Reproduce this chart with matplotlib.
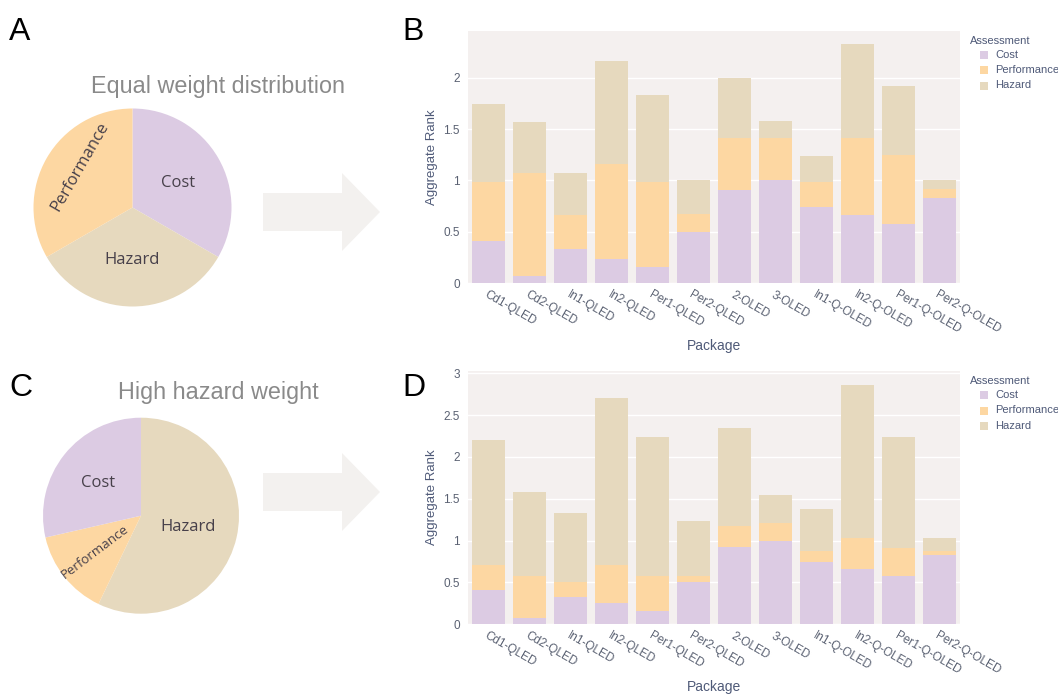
import matplotlib
matplotlib.use("Agg")
import matplotlib.pyplot as plt
import numpy as np
from matplotlib.patches import Polygon, Rectangle

W, H = 1058, 696
plt.rcParams['font.family'] = ['Liberation Sans', 'DejaVu Sans']

packages = ["Cd1-QLED", "Cd2-QLED", "In1-QLED", "In2-QLED", "Per1-QLED", "Per2-QLED",
            "2-OLED", "3-OLED", "In1-Q-OLED", "In2-Q-OLED", "Per1-Q-OLED", "Per2-Q-OLED"]
assessments = ["Cost", "Performance", "Hazard"]

# Panel B (equal weights)
cost_b = [0.41, 0.07, 0.33, 0.24, 0.16, 0.50, 0.91, 1.00, 0.74, 0.66, 0.58, 0.83]
perf_b = [0.58, 1.00, 0.33, 0.92, 0.83, 0.17, 0.50, 0.41, 0.25, 0.75, 0.67, 0.09]
haz_b = [0.75, 0.50, 0.41, 1.00, 0.84, 0.33, 0.59, 0.17, 0.25, 0.92, 0.67, 0.08]
# Panel D (high hazard weight)
cost_d = [0.41, 0.07, 0.33, 0.25, 0.16, 0.50, 0.92, 1.00, 0.75, 0.66, 0.58, 0.83]
perf_d = [0.30, 0.51, 0.17, 0.46, 0.42, 0.08, 0.25, 0.21, 0.13, 0.37, 0.33, 0.04]
haz_d = [1.49, 1.00, 0.83, 2.00, 1.66, 0.66, 1.17, 0.33, 0.50, 1.83, 1.33, 0.16]

# Pie weights
pie_a_labels = ["Cost", "Hazard", "Performance"]
pie_a_values = [1.0, 1.0, 1.0]
pie_c_labels = ["Hazard", "Performance", "Cost"]
pie_c_values = [2.0, 0.5, 1.0]

colors = {"Cost": "#dccbe3", "Performance": "#fdd7a2", "Hazard": "#e6d9be"}
plot_bg = "#f4f0ef"
tick_col = "#5a6172"
title_col = "#4f5a78"

fig = plt.figure(figsize=(W / 100, H / 100), dpi=100)


def fx(px):
    return px / W


def fy(py):
    return 1 - py / H


def axes_px(x0, y0, x1, y1):
    return fig.add_axes([fx(x0), fy(y1), (x1 - x0) / W, (y1 - y0) / H])


# Panel letters
for lab, (x, y) in {"A": (9, 40), "B": (402, 40), "C": (9, 396), "D": (402, 396)}.items():
    fig.text(fx(x), fy(y), lab, fontsize=23, color="black", ha="left", va="baseline")


# Pies
def draw_pie(cx, cy, r, values, labels, title, title_y, texts):
    ax = axes_px(cx - r, cy - r, cx + r, cy + r)
    ax.pie(values, colors=[colors[l] for l in labels], startangle=90, counterclock=False,
           radius=1.0, wedgeprops=dict(linewidth=0))
    ax.set_xlim(-1, 1)
    ax.set_ylim(-1, 1)
    ax.set_aspect("equal")
    ax.axis("off")
    for (t, x, y, rot, fs) in texts:
        ax.text(x, y, t, ha="center", va="center", rotation=rot, fontsize=fs,
                color="#47404a", family=["Open Sans", "DejaVu Sans"])
    fig.text(fx(218), fy(title_y), title, ha="center", va="center", fontsize=16.8, color="#8a8a8a")


draw_pie(132.5, 207.5, 99, pie_a_values, pie_a_labels, "Equal weight distribution", 86,
         [("Cost", 0.46, 0.25, 0, 12), ("Hazard", 0.0, -0.53, 0, 12), ("Performance", -0.53, 0.41, 60, 12)])
draw_pie(141, 515.7, 98, pie_c_values, pie_c_labels, "High hazard weight", 392,
         [("Cost", -0.44, 0.33, 0, 12), ("Hazard", 0.48, -0.115, 0, 12), ("Performance", -0.47, -0.37, 37, 9.5)])


# Arrows
def draw_arrow(cy):
    pts = [(263, cy - 19), (342, cy - 19), (342, cy - 39), (380, cy), (342, cy + 39),
           (342, cy + 19), (263, cy + 19)]
    poly = Polygon([(fx(x), fy(y)) for x, y in pts], closed=True, transform=fig.transFigure,
                   facecolor="#f3f1ef", edgecolor="none")
    fig.patches.append(poly)


draw_arrow(212)
draw_arrow(492)


# Bar charts
def draw_bars(y0, y1, cost, perf, haz, ymax, yticks):
    ax = axes_px(468, y0, 960, y1)
    ax.set_facecolor(plot_bg)
    x = np.arange(len(packages))
    c = np.array(cost)
    p = np.array(perf)
    h = np.array(haz)
    ax.bar(x, c, 0.8, color=colors["Cost"], zorder=3)
    ax.bar(x, p, 0.8, bottom=c, color=colors["Performance"], zorder=3)
    ax.bar(x, h, 0.8, bottom=c + p, color=colors["Hazard"], zorder=3)
    ax.set_xlim(-0.5, len(packages) - 0.5)
    ax.set_ylim(0, ymax)
    ax.set_yticks(yticks)
    ax.set_yticklabels([("%g" % t) for t in yticks])
    ax.yaxis.grid(True, color="white", linewidth=1, zorder=0)
    ax.set_axisbelow(True)
    for s in ax.spines.values():
        s.set_visible(False)
    ax.tick_params(axis="both", length=0, labelsize=8.5, colors=tick_col)
    ax.tick_params(axis="y", pad=6)
    ax.set_xticks(x)
    ax.set_xticklabels(packages, rotation=-30, ha="left", rotation_mode="anchor")
    ax.tick_params(axis="x", pad=4)
    ax.set_ylabel("Aggregate Rank", fontsize=9.5, color=title_col, labelpad=4)
    ax.set_xlabel("Package", fontsize=10, color=title_col, labelpad=2)
    return ax


draw_bars(30.7, 283.3, cost_b, perf_b, haz_b, 2.457, [0, 0.5, 1, 1.5, 2])
draw_bars(371, 624.3, cost_d, perf_d, haz_d, 3.027, [0, 0.5, 1, 1.5, 2, 2.5, 3])


# Legends
def draw_legend(ytop):
    fig.text(fx(970), fy(ytop), "Assessment", fontsize=8, color=title_col, ha="left", va="center")
    for i, a in enumerate(assessments):
        yy = ytop + 14 + i * 15.5
        fig.patches.append(Rectangle((fx(980), fy(yy + 4)), 8 / W, 8 / H, transform=fig.transFigure,
                                     facecolor=colors[a], edgecolor="none"))
        fig.text(fx(995), fy(yy), a, fontsize=8, color=title_col, ha="left", va="center")


draw_legend(40.5)
draw_legend(381)

fig.savefig("out.png", dpi=100)
